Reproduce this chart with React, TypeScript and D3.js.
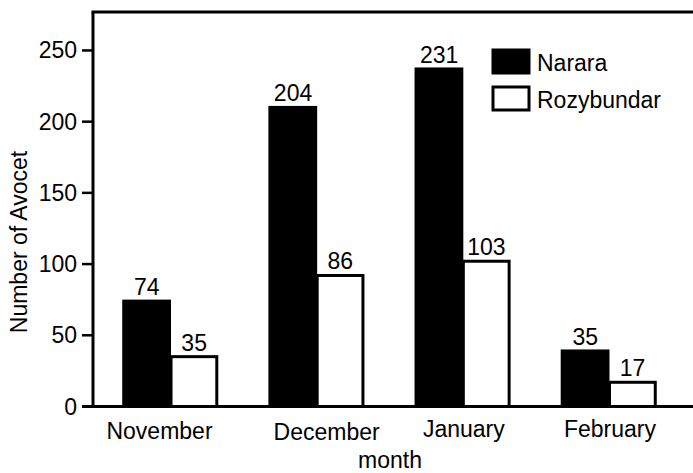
import * as d3 from "d3";
import { useEffect } from "react";

const months = ["November", "December", "January", "February"];
const seriesNames = ["Narara", "Rozybundar"];
// bar heights as drawn in the figure
const nararaBars = [74, 210, 237, 39];
const rozyBars = [35, 92, 102, 17];
// numbers printed above the bars
const nararaLabels = ["74", "204", "231", "35"];
const rozyLabels = ["35", "86", "103", "17"];
const yTicks = [0, 50, 100, 150, 200, 250];

const App = () => {
  useEffect(() => {
    d3.select("#avocet_chart").selectAll("*").remove();

    const width = 693,
      height = 473;
    const left = 93,
      top = 12,
      bottom = 406.5;
    const font = "'Liberation Sans', Arial, Helvetica, sans-serif";

    const svg = d3
      .select("#avocet_chart")
      .append("svg")
      .attr("width", width)
      .attr("height", height)
      .style("display", "block")
      .style("font-family", font);

    svg.append("rect").attr("width", width).attr("height", height).attr("fill", "#fff");

    const y = d3.scaleLinear().domain([0, 277]).range([bottom, top]);

    const x = d3
      .scaleBand()
      .domain(months)
      .range([left, 684.5])
      .paddingInner(0.353)
      .paddingOuter(0.2);

    const xInner = d3.scaleBand().domain(seriesNames).range([0, x.bandwidth()]);

    const rows = months.map((m, i) => ({
      month: m,
      values: [
        { key: seriesNames[0], v: nararaBars[i], label: nararaLabels[i] },
        { key: seriesNames[1], v: rozyBars[i], label: rozyLabels[i] },
      ],
    }));

    const groups = svg
      .selectAll(".grp")
      .data(rows)
      .enter()
      .append("g")
      .attr("transform", (d) => `translate(${x(d.month)},0)`);

    groups
      .selectAll("rect")
      .data((d) => d.values)
      .enter()
      .append("rect")
      .attr("x", (d) => xInner(d.key)! + 1.5)
      .attr("y", (d) => y(d.v))
      .attr("width", xInner.bandwidth() - 1.5)
      .attr("height", (d) => bottom - y(d.v))
      .attr("fill", (d) => (d.key === "Narara" ? "#000" : "#fff"))
      .attr("stroke", "#000")
      .attr("stroke-width", 3);

    groups
      .selectAll("text")
      .data((d) => d.values)
      .enter()
      .append("text")
      .attr("x", (d) => xInner(d.key)! + xInner.bandwidth() / 2 + 1)
      .attr("y", (d) => y(d.v) - 6)
      .attr("text-anchor", "middle")
      .attr("font-size", 23)
      .text((d) => d.label);

    // frame: left axis, top line, bottom axis
    svg
      .append("line")
      .attr("x1", left)
      .attr("x2", left)
      .attr("y1", top)
      .attr("y2", bottom)
      .attr("stroke", "#000")
      .attr("stroke-width", 3);
    svg
      .append("line")
      .attr("x1", left - 1.5)
      .attr("x2", width)
      .attr("y1", top)
      .attr("y2", top)
      .attr("stroke", "#000")
      .attr("stroke-width", 3);
    svg
      .append("line")
      .attr("x1", left - 11)
      .attr("x2", width)
      .attr("y1", bottom)
      .attr("y2", bottom)
      .attr("stroke", "#000")
      .attr("stroke-width", 3);

    // y ticks
    const yAxis = svg.append("g");
    yAxis
      .selectAll("line")
      .data(yTicks)
      .enter()
      .append("line")
      .attr("x1", left - 11)
      .attr("x2", left)
      .attr("y1", (d) => y(d))
      .attr("y2", (d) => y(d))
      .attr("stroke", "#000")
      .attr("stroke-width", 2.5);
    yAxis
      .selectAll("text")
      .data(yTicks)
      .enter()
      .append("text")
      .attr("x", left - 16)
      .attr("y", (d) => y(d) + 8)
      .attr("text-anchor", "end")
      .attr("font-size", 23)
      .text((d) => d);

    // x labels (the original places them slightly off the group centres)
    const nudge: Record<string, [number, number]> = {
      November: [-10, 0],
      December: [11, 1],
      January: [2, -2],
      February: [2, -2],
    };
    svg
      .selectAll(".xlab")
      .data(months)
      .enter()
      .append("text")
      .attr("x", (d) => x(d)! + x.bandwidth() / 2 + nudge[d][0])
      .attr("y", (d) => 439 + nudge[d][1])
      .attr("text-anchor", "middle")
      .attr("font-size", 23)
      .text((d) => d);

    svg
      .append("text")
      .attr("x", 390)
      .attr("y", 468)
      .attr("text-anchor", "middle")
      .attr("font-size", 23)
      .text("month");

    svg
      .append("text")
      .attr("transform", "translate(27,242) rotate(-90)")
      .attr("text-anchor", "middle")
      .attr("font-size", 23)
      .text("Number of Avocet");

    // legend
    const legend = svg
      .selectAll(".leg")
      .data(seriesNames)
      .enter()
      .append("g")
      .attr("transform", (_, i) => `translate(493,${50 + i * 37})`);
    legend
      .append("rect")
      .attr("width", 36)
      .attr("height", 23)
      .attr("fill", (d) => (d === "Narara" ? "#000" : "#fff"))
      .attr("stroke", "#000")
      .attr("stroke-width", 3);
    legend
      .append("text")
      .attr("x", 44)
      .attr("y", 21)
      .attr("font-size", 23)
      .text((d) => d);
  }, []);

  return (
    <div
      id="avocet_chart"
      style={{ position: "absolute", left: 0, top: 0, width: 693, height: 473, overflow: "hidden" }}
    />
  );
};

export default App;
